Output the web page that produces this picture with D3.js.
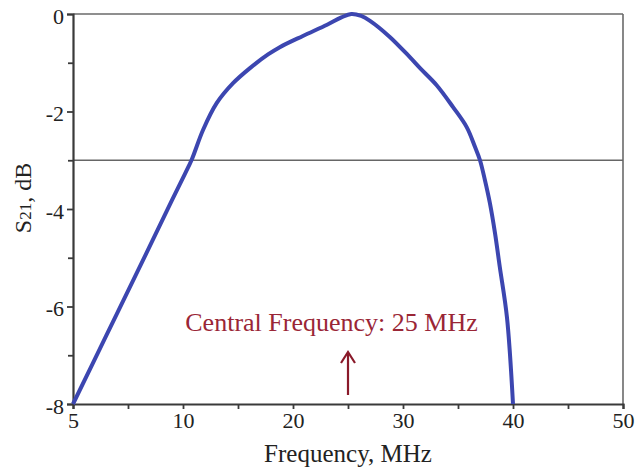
<!DOCTYPE html>
<html><head><meta charset="utf-8">
<script src="https://cdn.jsdelivr.net/npm/d3@7"></script>
<style>body{margin:0;background:#fff}svg{display:block}</style>
</head><body>
<svg id="c" width="639" height="468"></svg>
<script>
// Data (frequency in axis units, S21 in dB)
const freq = [0, 3, 6, 9, 10.2, 10.79, 11.82, 13.06, 14.55, 16.09, 17.73, 18.8, 20.9, 23.1, 24.4, 25.3, 26.2, 27.0, 28.8, 30.6, 31.55, 33.06, 34.55, 35.79, 36.55, 37.0, 37.45, 37.9, 38.36, 38.8, 39.45, 40];
const s21  = [-8, -6.61, -5.22, -3.82, -3.27, -2.99, -2.38, -1.83, -1.42, -1.11, -0.83, -0.68, -0.45, -0.22, -0.07, 0, -0.04, -0.14, -0.47, -0.88, -1.11, -1.46, -1.91, -2.32, -2.73, -3.0, -3.41, -3.88, -4.49, -5.19, -6.22, -8];
const xTickValues = [0, 10, 20, 30, 40, 50];
const xTickLabels = ["5", "10", "20", "30", "40", "50"];
const xMinorTicks = [5, 15, 25, 35, 45];
const yTickValues = [0, -2, -4, -6, -8];
const yMinorTicks = [-1, -3, -5, -7];
const refLevel = -3;
const centerFreq = 25;
const annotation = "Central Frequency: 25 MHz";

const svg = d3.select("#c");
const L = 73, R = 623, T = 14, B = 404;
const x = d3.scaleLinear().domain([0, 50]).range([L, R]);
const y = d3.scaleLinear().domain([-8, 0]).range([B, T]);
const font = "'Liberation Serif','Times New Roman',serif";
const axisCol = "#3a3a3a";

// frame top/right
svg.append("line").attr("x1", L).attr("x2", R).attr("y1", T).attr("y2", T).attr("stroke", "#6a6a6a").attr("stroke-width", 1.6);
svg.append("line").attr("x1", R).attr("x2", R).attr("y1", T).attr("y2", B).attr("stroke", "#6a6a6a").attr("stroke-width", 1.6);
// -3 dB reference line
svg.append("line").attr("x1", L).attr("x2", R).attr("y1", y(refLevel)).attr("y2", y(refLevel)).attr("stroke", "#666").attr("stroke-width", 1.6);

// x axis
svg.append("g").attr("transform", `translate(0,${B})`)
  .call(d3.axisBottom(x).tickValues(xTickValues).tickFormat((d, i) => xTickLabels[i]).tickSizeOuter(0).tickSize(5).tickPadding(3));
svg.append("g").attr("transform", `translate(0,${B})`)
  .call(d3.axisBottom(x).tickValues(xMinorTicks).tickFormat("").tickSizeOuter(0).tickSize(5))
  .call(g => g.select(".domain").remove());
// y axis
const gy = svg.append("g").attr("transform", `translate(${L},0)`)
  .call(d3.axisLeft(y).tickValues(yTickValues).tickFormat(d3.format("d")).tickSizeOuter(0).tickSize(6).tickPadding(3));
svg.append("g").attr("transform", `translate(${L},0)`)
  .call(d3.axisLeft(y).tickValues(yMinorTicks).tickFormat("").tickSizeOuter(0).tickSize(5))
  .call(g => g.select(".domain").remove());

svg.selectAll(".domain").attr("stroke", axisCol).attr("stroke-width", 2.2);
svg.selectAll(".tick line").attr("stroke", axisCol).attr("stroke-width", 1.8);
svg.selectAll(".tick text").attr("font-family", font).attr("font-size", 22).attr("fill", "#222");
gy.selectAll(".tick text").text(d => d === 0 ? "0" : "-" + Math.abs(d)).attr("dy", "0.42em");

// curve
const line = d3.line().x((d, i) => x(freq[i])).y((d, i) => y(s21[i])).curve(d3.curveCatmullRom.alpha(0.5));
svg.append("path").datum(s21).attr("d", line).attr("fill", "none")
  .attr("stroke", "#3c46b0").attr("stroke-width", 4).attr("stroke-linejoin", "round");

// axis labels
svg.append("text").attr("x", x(25)).attr("y", 462)
  .attr("text-anchor", "middle").attr("font-family", font).attr("font-size", 25).attr("fill", "#222")
  .text("Frequency, MHz");
const yl = svg.append("text").attr("transform", `translate(31,${198}) rotate(-90)`)
  .attr("text-anchor", "middle").attr("font-family", font).attr("font-size", 24).attr("fill", "#222");
yl.append("tspan").text("S");
yl.append("tspan").attr("font-size", 17).text("21");
yl.append("tspan").text(", dB");

// annotation
svg.append("text").attr("x", x(23.5)).attr("y", 331).attr("text-anchor", "middle")
  .attr("font-family", font).attr("font-size", 26).attr("fill", "#9a2636").text(annotation);
const ax = x(centerFreq);
svg.append("line").attr("x1", ax).attr("x2", ax).attr("y1", 395).attr("y2", 353)
  .attr("stroke", "#8a1a2a").attr("stroke-width", 2.2);
svg.append("path").attr("d", `M${ax - 7},${363} L${ax},${352} L${ax + 7},${363}`)
  .attr("fill", "none").attr("stroke", "#8a1a2a").attr("stroke-width", 2.2);
</script>
</body></html>
